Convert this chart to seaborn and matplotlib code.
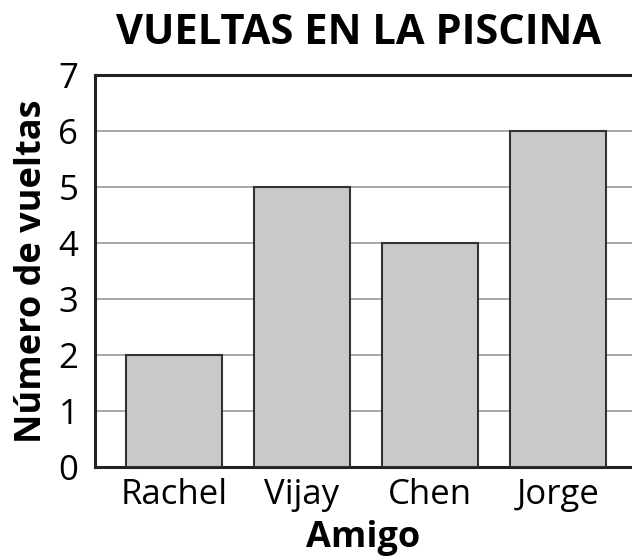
import matplotlib
matplotlib.use("Agg")
import matplotlib.pyplot as plt
import pandas as pd
import seaborn as sns

amigos = ["Rachel", "Vijay", "Chen", "Jorge"]
vueltas = [2, 5, 4, 6]
y_ticks = [0, 1, 2, 3, 4, 5, 6, 7]

sns.set_style("white")
plt.rcParams['font.family'] = ['Open Sans', 'DejaVu Sans']

data = pd.DataFrame({'Amigo': amigos, 'Vueltas': vueltas})

fig = plt.figure(figsize=(6.32, 5.6), dpi=100)
ax = fig.add_axes([95 / 632, 1 - 467 / 560, 537 / 632, 392 / 560])

sns.barplot(data=data, x='Amigo', y='Vueltas', color='#c8c9cb', width=0.75,
            edgecolor='#333333', linewidth=1.5, saturation=1, ax=ax, zorder=3)

ax.set_ylim(0, 7)
ax.set_xlim(-0.617, 3.578)
ax.set_yticks(y_ticks)
ax.yaxis.grid(True, color='#9a9a9a', linewidth=1.2, zorder=0)
ax.set_axisbelow(True)
ax.tick_params(axis='both', length=0, labelsize=25, colors='black')
ax.tick_params(axis='y', pad=12)
ax.tick_params(axis='x', pad=8)

for side in ['left', 'bottom', 'top']:
    ax.spines[side].set_visible(True)
    ax.spines[side].set_color('#222222')
    ax.spines[side].set_linewidth(2.2)
ax.spines['right'].set_visible(False)

ax.set_xlabel('Amigo', fontsize=26, fontweight='bold', labelpad=6, color='black')
ax.set_ylabel('Número de vueltas', fontsize=26, fontweight='bold', labelpad=6,
              color='black')
fig.text(0.568, 0.94, 'VUELTAS EN LA PISCINA', ha='center', va='center',
         fontsize=30, fontweight='bold', color='black')

plt.savefig('out.png', dpi=100)
plt.close()
